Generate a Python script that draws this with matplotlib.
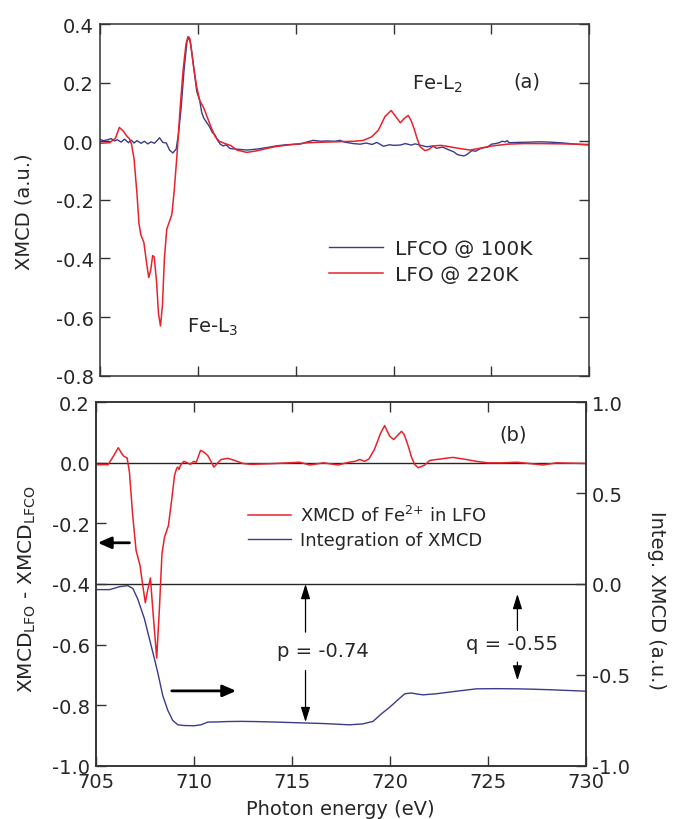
import numpy as np
import matplotlib
matplotlib.use("Agg")
import matplotlib.pyplot as plt
from matplotlib.ticker import FixedLocator, FormatStrFormatter

plt.rcParams["font.family"] = ["DejaVu Sans"]
plt.rcParams["mathtext.fontset"] = "dejavusans"
plt.rcParams["axes.unicode_minus"] = False

# XMCD spectra: columns are photon energy (eV), XMCD (a.u.)
lfo_220k = np.array([
    [705.0, -0.007], [705.5, -0.005], [705.8, 0.010], [706.0, 0.047], [706.2, 0.035],
    [706.35, 0.020], [706.52, 0.008], [706.62, -0.010], [706.75, -0.060], [706.9, -0.180],
    [707.0, -0.280], [707.1, -0.320], [707.25, -0.345], [707.4, -0.420], [707.5, -0.465],
    [707.6, -0.440], [707.7, -0.390], [707.78, -0.395], [707.9, -0.480], [708.0, -0.590],
    [708.1, -0.630], [708.2, -0.560], [708.3, -0.400], [708.42, -0.300], [708.55, -0.275],
    [708.68, -0.250], [708.8, -0.170], [708.95, -0.040], [709.1, 0.110], [709.25, 0.240],
    [709.4, 0.330], [709.5, 0.357], [709.6, 0.350], [709.7, 0.300], [709.8, 0.250],
    [709.95, 0.185], [710.1, 0.140], [710.3, 0.115], [710.5, 0.080], [710.7, 0.045],
    [710.9, 0.015], [711.1, 0.000], [711.4, -0.008], [711.7, -0.015], [712.0, -0.030],
    [712.5, -0.038], [713.0, -0.033], [713.5, -0.025], [714.0, -0.018], [714.5, -0.014],
    [715.0, -0.010], [715.5, -0.006], [716.0, -0.004], [716.5, -0.003], [717.0, -0.002],
    [717.5, -0.001], [718.0, 0.000], [718.46, 0.003], [718.88, 0.015], [719.23, 0.038],
    [719.56, 0.084], [719.88, 0.105], [720.1, 0.085], [720.35, 0.063], [720.55, 0.078],
    [720.75, 0.088], [720.9, 0.070], [721.05, 0.043], [721.2, 0.010], [721.35, -0.018],
    [721.6, -0.032], [721.8, -0.028], [722.04, -0.016], [722.4, -0.014], [722.8, -0.018],
    [723.3, -0.024], [723.9, -0.030], [724.4, -0.024], [724.94, -0.017], [725.8, -0.010],
    [726.6, -0.008], [727.5, -0.008], [728.7, -0.009], [730.0, -0.011],
])

lfco_100k = np.array([
    [705.0, 0.006], [705.2, 0.002], [705.4, 0.005], [705.58, 0.009], [705.75, 0.001],
    [705.9, 0.005], [706.09, -0.003], [706.26, 0.007], [706.47, -0.005], [706.6, 0.004],
    [706.75, -0.006], [706.9, 0.002], [707.11, -0.007], [707.28, 0.000], [707.45, -0.009],
    [707.62, -0.002], [707.79, -0.007], [707.95, 0.004], [708.05, 0.012], [708.22, -0.004],
    [708.4, -0.006], [708.56, -0.030], [708.73, -0.040], [708.9, -0.027], [709.02, 0.026],
    [709.15, 0.110], [709.3, 0.240], [709.45, 0.340], [709.55, 0.355], [709.65, 0.330],
    [709.8, 0.250], [709.95, 0.170], [710.1, 0.140], [710.2, 0.100], [710.3, 0.080],
    [710.45, 0.065], [710.6, 0.050], [710.75, 0.030], [710.9, 0.020], [711.0, 0.005],
    [711.15, -0.010], [711.3, -0.016], [711.45, -0.012], [711.65, -0.025], [712.0, -0.027],
    [712.5, -0.030], [713.0, -0.027], [713.5, -0.022], [714.0, -0.016], [714.5, -0.012],
    [715.0, -0.010], [715.22, -0.010], [715.5, -0.004], [715.9, 0.003], [716.3, 0.000],
    [716.6, 0.001], [717.0, 0.000], [717.27, 0.003], [717.5, -0.003], [717.95, -0.008],
    [718.3, -0.010], [718.6, -0.006], [718.9, -0.011], [719.15, -0.004], [719.48, -0.017],
    [719.8, -0.012], [720.0, -0.014], [720.34, -0.013], [720.6, -0.008], [720.9, -0.013],
    [721.1, -0.009], [721.4, -0.014], [721.7, -0.019], [722.0, -0.016], [722.2, -0.024],
    [722.5, -0.020], [722.7, -0.026], [723.07, -0.036], [723.25, -0.045], [723.4, -0.048],
    [723.6, -0.050], [723.75, -0.045], [724.0, -0.032], [724.2, -0.034], [724.4, -0.026],
    [724.6, -0.022], [724.8, -0.020], [725.0, -0.010], [725.2, -0.008], [725.4, -0.005],
    [725.55, 0.000], [725.7, -0.002], [725.8, 0.002], [725.9, -0.005], [726.3, -0.004],
    [727.0, -0.003], [727.5, -0.002], [728.0, -0.003], [728.7, -0.006], [729.3, -0.010],
    [730.0, -0.013],
])

# Fe2+ contribution (LFO - LFCO) and its running integral
fe2_xmcd = np.array([
    [705.0, -0.006], [705.6, -0.006], [705.85, 0.020], [706.12, 0.050], [706.3, 0.030],
    [706.4, 0.022], [706.57, 0.016], [706.69, -0.031], [706.85, -0.170], [707.03, -0.290],
    [707.23, -0.339], [707.38, -0.410], [707.5, -0.462], [707.62, -0.420], [707.76, -0.380],
    [707.9, -0.500], [708.08, -0.645], [708.22, -0.480], [708.35, -0.300], [708.48, -0.245],
    [708.68, -0.207], [708.85, -0.120], [708.99, -0.042], [709.1, -0.018], [709.16, -0.014],
    [709.22, -0.022], [709.3, -0.007], [709.47, 0.005], [709.65, 0.000], [709.8, -0.005],
    [709.97, 0.005], [710.1, 0.002], [710.32, 0.041], [710.5, 0.035], [710.69, 0.024],
    [710.85, 0.005], [711.0, -0.014], [711.2, 0.000], [711.37, 0.011], [711.71, 0.015],
    [712.06, 0.008], [712.48, -0.002], [712.9, -0.005], [713.8, -0.003], [714.5, -0.001],
    [715.38, 0.002], [715.9, -0.007], [716.6, 0.000], [717.34, -0.007], [717.9, 0.002],
    [718.2, 0.005], [718.45, 0.011], [718.7, 0.005], [718.92, 0.013], [719.21, 0.046],
    [719.5, 0.096], [719.72, 0.123], [719.85, 0.105], [719.98, 0.088], [720.18, 0.077],
    [720.4, 0.092], [720.58, 0.104], [720.7, 0.095], [720.8, 0.079], [720.95, 0.050],
    [721.09, 0.019], [721.25, -0.005], [721.43, -0.016], [721.6, -0.012], [721.77, -0.007],
    [722.02, 0.008], [722.6, 0.013], [723.2, 0.018], [723.8, 0.012], [724.4, 0.005],
    [725.0, 0.000], [725.7, 0.000], [726.46, 0.002], [727.1, -0.002], [727.8, -0.007],
    [728.5, 0.000], [729.2, -0.001], [730.0, -0.002],
])

fe2_integral = np.array([
    [705.0, -0.031], [705.68, -0.031], [706.18, -0.015], [706.6, -0.009], [706.86, -0.024],
    [707.11, -0.082], [707.45, -0.190], [707.88, -0.375], [708.13, -0.485], [708.39, -0.614],
    [708.65, -0.696], [708.9, -0.751], [709.16, -0.775], [709.5, -0.779], [710.0, -0.780],
    [710.34, -0.775], [710.69, -0.760], [711.2, -0.759], [711.7, -0.757], [712.4, -0.756],
    [713.08, -0.757], [714.2, -0.760], [715.38, -0.764], [716.6, -0.768], [717.93, -0.775],
    [718.6, -0.770], [719.13, -0.756], [719.56, -0.714], [719.98, -0.678], [720.4, -0.637],
    [720.75, -0.604], [721.09, -0.600], [721.4, -0.606], [721.68, -0.610], [722.37, -0.604],
    [723.39, -0.590], [724.41, -0.577], [725.4, -0.576], [726.46, -0.577], [727.3, -0.579],
    [728.16, -0.582], [729.1, -0.586], [730.0, -0.590],
])

x_ticks = [705, 710, 715, 720, 725, 730]
top_yticks = [0.4, 0.2, 0.0, -0.2, -0.4, -0.6, -0.8]
bot_yticks = [0.2, 0.0, -0.2, -0.4, -0.6, -0.8, -1.0]
integ_yticks = [1.0, 0.5, 0.0, -0.5, -1.0]

red = "#e8222b"
blue = "#3b3b8c"
ink = "#262626"


def style_axis(ax):
    for s in ax.spines.values():
        s.set_color("#333333")
        s.set_linewidth(1.1)
    ax.tick_params(direction="in", length=7, width=1.0, color="#333333",
                   labelsize=14, labelcolor=ink, pad=4.5)


fig = plt.figure(figsize=(6.82, 8.2), dpi=100)
ax_a = fig.add_axes([0.1463, 0.5406, 0.7179, 0.4289])
ax_b = fig.add_axes([0.1413, 0.0650, 0.7179, 0.4432])
ax_i = ax_b.twinx()

# (a) raw spectra
ax_a.plot(lfco_100k[:, 0], lfco_100k[:, 1], color=blue, lw=1.0, label="LFCO @ 100K")
ax_a.plot(lfo_220k[:, 0], lfo_220k[:, 1], color=red, lw=1.1, label="LFO @ 220K")
ax_a.set_xlim(705, 730)
ax_a.set_ylim(-0.8, 0.4)
ax_a.xaxis.set_major_locator(FixedLocator(x_ticks))
ax_a.yaxis.set_major_locator(FixedLocator(top_yticks))
ax_a.yaxis.set_major_formatter(FormatStrFormatter("%.1f"))
style_axis(ax_a)
ax_a.tick_params(top=True, right=True, labelbottom=False)
ax_a.legend(loc="center left", bbox_to_anchor=(0.468, 0.325), frameon=False,
            fontsize=14.5, handlelength=2.7, handletextpad=0.6, labelspacing=0.38,
            borderpad=0, borderaxespad=0, labelcolor=ink)
ax_a.text(709.45, -0.632, "Fe-L$_3$", fontsize=14, color=ink, ha="left", va="center")
ax_a.text(720.95, 0.197, "Fe-L$_2$", fontsize=14, color=ink, ha="left", va="center")
ax_a.text(726.1, 0.207, "(a)", fontsize=14, color=ink, ha="left", va="center")

# (b) Fe2+ difference spectrum and its integral
ax_b.axhline(0.0, color=ink, lw=1.0, zorder=1)
ax_b.axhline(-0.4, color=ink, lw=1.0, zorder=1)
l1, = ax_b.plot(fe2_xmcd[:, 0], fe2_xmcd[:, 1], color=red, lw=1.1,
                label="XMCD of Fe$^{2{+}}$ in LFO")
l2, = ax_i.plot(fe2_integral[:, 0], fe2_integral[:, 1], color=blue, lw=1.0,
                label="Integration of XMCD")
ax_b.set_xlim(705, 730)
ax_b.set_ylim(-1.0, 0.2)
ax_i.set_ylim(-1.0, 1.0)
ax_b.xaxis.set_major_locator(FixedLocator(x_ticks))
ax_b.yaxis.set_major_locator(FixedLocator(bot_yticks))
ax_b.yaxis.set_major_formatter(FormatStrFormatter("%.1f"))
ax_i.yaxis.set_major_locator(FixedLocator(integ_yticks))
ax_i.yaxis.set_major_formatter(FormatStrFormatter("%.1f"))
style_axis(ax_b)
style_axis(ax_i)
ax_b.tick_params(top=True)
ax_b.legend(handles=[l1, l2], loc="center left", bbox_to_anchor=(0.31, 0.656),
            frameon=False, fontsize=13, handlelength=2.4, handletextpad=0.45,
            labelspacing=0.32, borderpad=0, borderaxespad=0, labelcolor=ink)
ax_b.text(725.6, 0.096, "(b)", fontsize=14, color=ink, ha="left", va="center")

# axis-direction arrows
thick = dict(arrowstyle="-|>,head_length=0.8,head_width=0.35", color="black",
             lw=2.0, shrinkA=0, shrinkB=0)
ax_b.annotate("", xy=(705.07, -0.264), xytext=(706.69, -0.264), arrowprops=thick)
ax_b.annotate("", xy=(712.14, -0.753), xytext=(708.85, -0.753), arrowprops=thick)

# p and q markers on the integral axis
thin = dict(arrowstyle="-|>,head_length=0.9,head_width=0.28", color="black",
            lw=0.9, shrinkA=0, shrinkB=0)
ax_i.annotate("", xy=(715.68, 0.0), xytext=(715.68, -0.265), arrowprops=thin)
ax_i.annotate("", xy=(715.68, -0.76), xytext=(715.68, -0.476), arrowprops=thin)
ax_i.annotate("", xy=(726.5, -0.055), xytext=(726.5, -0.256), arrowprops=thin)
ax_i.annotate("", xy=(726.5, -0.531), xytext=(726.5, -0.43), arrowprops=thin)
ax_i.text(716.55, -0.366, "p = -0.74", fontsize=14, color=ink, ha="center", va="center")
ax_i.text(726.24, -0.33, "q = -0.55", fontsize=14, color=ink, ha="center", va="center")

fig.text(0.035, 0.7415, "XMCD (a.u.)", rotation=90, fontsize=14, color=ink,
         ha="center", va="center")
fig.text(0.040, 0.2817, "XMCD$_{\\mathregular{LFO}}$ - XMCD$_{\\mathregular{LFCO}}$",
         rotation=90, fontsize=14.5, color=ink, ha="center", va="center")
fig.text(0.962, 0.268, "Integ. XMCD (a.u.)", rotation=-90, fontsize=14, color=ink,
         ha="center", va="center")
fig.text(0.499, 0.0122, "Photon energy (eV)", fontsize=14, color=ink,
         ha="center", va="center")

fig.savefig("out.png", dpi=100)
